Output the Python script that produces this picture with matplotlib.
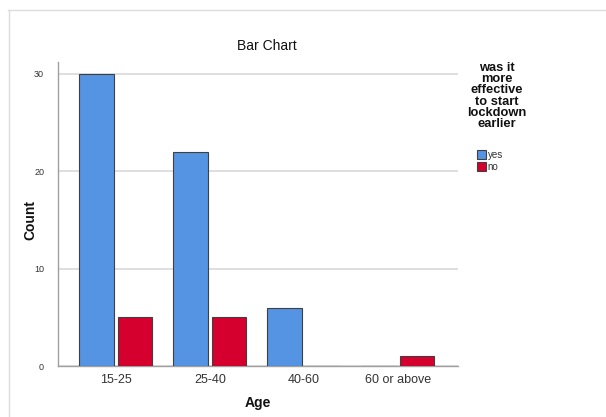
import matplotlib
matplotlib.use("Agg")
import matplotlib.pyplot as plt
import numpy as np
from matplotlib.patches import Patch
from matplotlib.lines import Line2D

categories = ["15-25", "25-40", "40-60", "60 or above"]
yes_counts = [30, 22, 6, 0]
no_counts = [5, 5, 0, 1]
series_names = ["yes", "no"]
yticks = [0, 10, 20, 30]

plt.rcParams['font.family'] = ['Liberation Sans', 'DejaVu Sans']

W, H = 606, 417
fig = plt.figure(figsize=(W/100, H/100), dpi=100)

def fx(px):
    return px / W
def fy(py):
    return 1 - py / H

# outer frame lines
fig.add_artist(Line2D([fx(8), fx(606)], [fy(9.5), fy(9.5)], color='#dcdcdc', lw=1))
fig.add_artist(Line2D([fx(8.5), fx(8.5)], [fy(9.5), fy(417)], color='#dcdcdc', lw=1))

left, right, top, bottom = 58, 458, 62, 366
ax = fig.add_axes([fx(left), fy(bottom), fx(right - left), (bottom - top) / H])

x = np.arange(len(categories))
bw = 0.365
off = 0.205
blue = '#5593e3'
red = '#d5002d'
ax.bar(x - off, yes_counts, width=bw, color=blue, edgecolor='#404040', linewidth=0.8, zorder=3)
ax.bar(x + off, no_counts, width=bw, color=red, edgecolor='#404040', linewidth=0.8, zorder=3)

ax.set_xlim(-0.615, 3.64)
ax.set_ylim(0, 31.2)
ax.set_yticks(yticks)
ax.set_yticklabels([str(v) for v in yticks], fontsize=6.5, color='#333333')
ax.set_xticks(x)
ax.set_xticklabels(categories, fontsize=9, color='#333333')
ax.tick_params(axis='both', length=0)
ax.tick_params(axis='y', pad=10)
ax.tick_params(axis='x', pad=6)
ax.yaxis.grid(True, color='#d9d9d9', linewidth=1.2, zorder=0)
for s in ['top', 'right']:
    ax.spines[s].set_visible(False)
for s in ['left', 'bottom']:
    ax.spines[s].set_color('#a0a0a0')
    ax.spines[s].set_linewidth(1.0)
ax.set_axisbelow(True)

fig.text(fx(267), fy(46), "Bar Chart", ha='center', va='center', fontsize=10, color='#111111')
fig.text(fx(30), fy(220), "Count", ha='center', va='center', rotation=90, fontsize=10, fontweight='bold', color='#111111')
fig.text(fx(258), fy(403), "Age", ha='center', va='center', fontsize=10, fontweight='bold', color='#111111')

# legend
fig.text(fx(497), fy(96), "was it\nmore\neffective\nto start\nlockdown\nearlier", ha='center', va='center',
         fontsize=9.3, fontweight='bold', color='#111111', linespacing=0.92)
handles = [Patch(facecolor=blue, edgecolor='#404040', linewidth=0.8),
           Patch(facecolor=red, edgecolor='#404040', linewidth=0.8)]
leg = fig.legend(handles, series_names, loc='upper left', bbox_to_anchor=(fx(469), fy(142)),
                 frameon=False, fontsize=7, handlelength=0.9, handleheight=1.0,
                 handletextpad=0.2, labelspacing=0.2, borderpad=0.3)
for t in leg.get_texts():
    t.set_color('#333333')

fig.savefig("out.png", dpi=100)
